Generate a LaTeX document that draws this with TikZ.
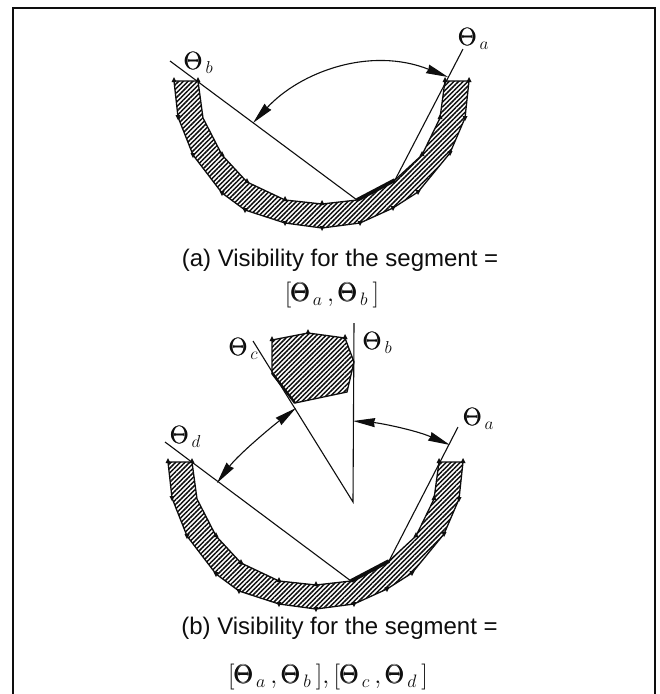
\documentclass[tikz,border=0pt]{standalone}
\usepackage{fontspec}
\usepackage{amsmath}
\setsansfont{Liberation Sans}
\usetikzlibrary{arrows.meta,patterns.meta}
\definecolor{scanink}{HTML}{0E0E0E}
\newcommand{\Thang}{\pmb{\Theta}}
\tikzset{
  wall/.style={draw=scanink,line width=1.3pt,pattern={Lines[angle=45,distance=3.3pt,line width=1.5pt]},pattern color=scanink},
  ray/.style={draw=scanink,line width=1.1pt},
  span/.style={draw=scanink,line width=1.1pt,>={Stealth[length=22pt,width=9pt,inset=1pt]},<->},
  seg/.style={draw=scanink,line width=3.8pt},
  caption/.style={font=\sffamily\fontsize{24}{26}\selectfont,text=scanink,inner sep=0pt},
  mathcap/.style={font=\fontsize{20}{24}\selectfont,text=scanink,inner sep=0pt,scale=1.25},
  angle/.style={font=\fontsize{20}{24}\selectfont,text=scanink,inner sep=0pt,scale=1.2}
}
\begin{document}
\begin{tikzpicture}[x=1pt,y=-1pt]
  \useasboundingbox (0,0) rectangle (660,694);
  \fill[white] (0,0) rectangle (660,694);
  \draw[scanink,line width=2.2pt] (13,694) -- (13,8) -- (655,8) -- (655,694);
  % the two bowls differ by a shift only
  \foreach \n/\dx/\dy in {u/0/0,l/-6/381}{
    \begin{scope}[shift={(\dx,\dy)}]
      \draw[wall] (174,81) -- (178,117) -- (193,155) -- (222,193) -- (245,210) -- (285,223) -- (322,228) -- (360,223) -- (393,208) -- (418,192) -- (450,153) -- (465,118) -- (469,81) -- (445,81) -- (440,118) -- (422,155) -- (395,180) -- (357,200) -- (322,204) -- (285,200) -- (247,182) -- (222,155) -- (203,118) -- (198,81) -- cycle;
      \foreach \x/\y in {178/117,193/155,222/193,245/210,285/223,322/228,360/223,393/208,418/192,450/153,465/118}{\fill[scanink] (\x-2.5,\y-2) -- (\x+2.5,\y-2) -- (\x,\y+3) -- cycle;}
      \foreach \x/\y in {174/81,198/81,445/81,469/81,440/118,422/155,322/204,285/200,247/182,222/155}{\fill[scanink] (\x-2.5,\y+1) -- (\x+2.5,\y+1) -- (\x,\y-4) -- cycle;}
      \coordinate (\n s1) at (357,200);
      \coordinate (\n s2) at (395,180);
      \draw[seg] (\n s1) -- (\n s2);
    \end{scope}
  }
  % upper picture
  \coordinate (ub) at (170,61);
  \coordinate (ua) at (463,49);
  \coordinate (uba) at (253,123);
  \coordinate (uaa) at (448,77);
  \draw[ray] (ub) -- (us1);
  \draw[ray] (ua) -- (us2);
  \draw[span] (uba) .. controls (300,72) and (370,46) .. (uaa);
  \node[angle] (thua) at (474,39) {$\Thang_{\,a}$};
  \node[angle] (thub) at (199,63) {$\Thang_{\,b}$};
  \node[caption] (capu) at (340,260) {(a) Visibility for the segment =};
  \node[mathcap] (mathu) at (332,295) {$[\Thang_{\,a}\,,\Thang_{\,b}\,]$};
  % lower picture
  \draw[wall] (272,340) -- (308,333) -- (345,338) -- (354,362) -- (347,392) -- (295,403) -- (272,373) -- cycle;
  \foreach \x/\y in {272/340,308/333,345/338}{\fill[scanink] (\x-2.5,\y+1) -- (\x+2.5,\y+1) -- (\x,\y-4) -- cycle;}
  \coordinate (lc) at (253,341);
  \coordinate (lvtx) at (353,502);
  \coordinate (lbt) at (354,323);
  \coordinate (ld) at (165,442);
  \coordinate (la) at (458,427);
  \coordinate (lca) at (296,408);
  \coordinate (lda) at (217,483);
  \coordinate (lbb) at (353,421);
  \coordinate (laa) at (450,445);
  \draw[ray] (ld) -- (ls1);
  \draw[ray] (la) -- (ls2);
  \draw[ray] (lc) -- (lvtx) -- (lbt);
  \draw[seg,line width=2.4pt] (272,373) -- (295,403);
  \draw[span] (lca) .. controls (270,428) and (238,455) .. (lda);
  \draw[span] (lbb) .. controls (380,423) and (415,430) .. (laa);
  \node[angle] (thla) at (479,419) {$\Thang_{\,a}$};
  \node[angle] (thlb) at (378,343) {$\Thang_{\,b}$};
  \node[angle] (thlc) at (244,349) {$\Thang_{\,c}$};
  \node[angle] (thld) at (186,437) {$\Thang_{\,d}$};
  \node[caption] (capl) at (339.5,628) {(b) Visibility for the segment =};
  \node[mathcap] (mathl) at (328,677) {$[\Thang_{\,a}\,,\Thang_{\,b}\,],[\Thang_{\,c}\,,\Thang_{\,d}\,]$};
\end{tikzpicture}
\end{document}
